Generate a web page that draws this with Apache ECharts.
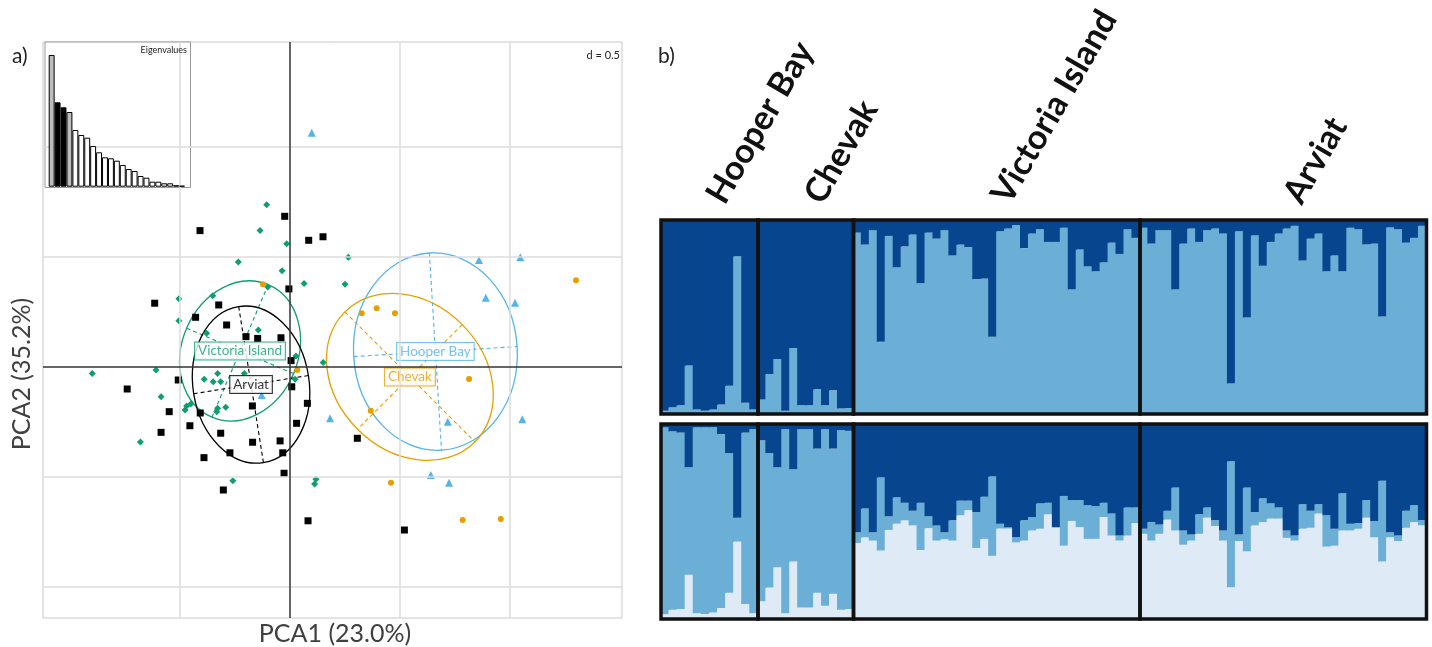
<!DOCTYPE html>
<html><head><meta charset="utf-8">
<script src="https://cdn.jsdelivr.net/npm/echarts@6/dist/echarts.min.js"></script>
<style>html,body{margin:0;padding:0;background:#fff}#chart{width:1432px;height:647px}</style>
</head><body><div id="chart"></div>
<script>
// ---------------- PCA scores (PC1, PC2) ----------------
const victoriaPts = [[-0.106,0.738],[-0.136,0.620],[-0.015,0.560],[-0.235,0.477],[-0.036,0.438],[0.064,0.380],[-0.101,0.364],[-0.505,0.310],[-0.351,0.324],[0.265,0.499],[0.250,0.376],[0.151,0.020],[-0.505,0.210],[-0.144,0.168],[-0.379,0.153],[0.027,0.050],[0.023,-0.056],[-0.899,-0.029],[-0.609,-0.014],[-0.390,-0.056],[-0.329,-0.029],[-0.349,-0.067],[-0.315,-0.067],[-0.208,-0.029],[-0.586,-0.135],[-0.470,-0.177],[-0.451,-0.168],[-0.329,-0.188],[-0.292,-0.183],[-0.477,-0.195],[-0.333,-0.203],[-0.680,-0.341],[-0.260,-0.517],[0.118,-0.510],[0.112,-0.532]];
const arviatPts = [[-0.024,0.685],[-0.409,0.620],[0.085,0.576],[0.150,0.592],[-0.005,0.355],[-0.615,0.290],[-0.324,0.282],[-0.429,0.226],[-0.288,0.191],[-0.200,0.138],[-0.147,0.130],[-0.041,0.133],[0.005,0.029],[0.008,-0.090],[-0.508,-0.059],[-0.740,-0.100],[-0.171,-0.177],[0.079,-0.165],[-0.549,-0.203],[-0.408,-0.209],[-0.455,-0.267],[-0.586,-0.297],[-0.315,-0.301],[-0.170,-0.342],[-0.045,-0.336],[0.030,-0.256],[-0.273,-0.390],[-0.033,-0.390],[-0.391,-0.412],[-0.027,-0.483],[-0.303,-0.559],[0.082,-0.699],[0.306,-0.324],[0.520,-0.741]];
const hooperPts = [[0.099,1.065],[0.859,0.486],[1.047,0.499],[0.890,0.315],[1.023,0.292],[0.182,-0.233],[0.717,-0.249],[1.056,-0.238],[0.640,-0.491],[0.723,-0.526],[-0.129,-0.127]];
const chevakPts = [[-0.123,0.376],[1.300,0.394],[0.326,0.244],[0.394,0.267],[0.477,0.244],[0.033,-0.014],[0.814,-0.055],[0.367,-0.199],[0.459,-0.526],[0.785,-0.695],[0.958,-0.691]];

const groupNames = ['Victoria Island','Arviat','Hooper Bay','Chevak'];
const groupCentroids = [[-0.227,0.073],[-0.177,-0.080],[0.661,0.070],[0.545,-0.045]];
const ellipseRadii = [[0.264,0.327],[0.264,0.359],[0.372,0.449],[0.418,0.336]];
const ellipseAngles = [-23,9,3.5,-45];

const gridLinesX = [-0.5,0.5,1.0];
const gridLinesY = [1.0,0.5,-0.5,-1.0];

const eigenvalues = [131.7,84.4,79.4,74.7,56.7,51.7,49,40.7,34.4,29.4,28.4,26,21.7,17.7,15.7,10.7,9,5,5,3.4,3.4,1.5,1];

// ---------------- STRUCTURE membership ----------------
const structPops = ['Hooper Bay','Chevak','Victoria Island','Arviat'];
// K = 2 : dark-cluster membership
const hooperK2Dark = [0.983,0.965,0.955,0.75,0.977,0.983,0.977,0.951,0.855,0.187,0.942,0.977];
const chevakK2Dark = [0.925,0.794,0.716,0.983,0.660,0.955,0.955,0.873,0.955,0.878,0.972,0.969];
const victoriaK2Dark = [0.065,0.127,0.052,0.628,0.082,0.244,0.136,0.075,0.326,0.065,0.096,0.052,0.183,0.127,0.140,0.305,0.302,0.602,0.058,0.044,0.026,0.145,0.070,0.047,0.113,0.113,0.040,0.358,0.152,0.239,0.265,0.218,0.117,0.175,0.047,0.092];
const arviatK2Dark = [0.040,0.122,0.052,0.052,0.358,0.122,0.044,0.113,0.052,0.044,0.070,0.843,0.058,0.503,0.079,0.236,0.113,0.070,0.044,0.030,0.209,0.096,0.070,0.265,0.183,0.265,0.040,0.047,0.126,0.122,0.497,0.038,0.047,0.117,0.092,0.030];
// K = 3 : dark-cluster and light-cluster membership
const hooperK3Dark = [0.017,0.038,0.044,0.222,0.017,0.017,0.017,0.052,0.149,0.481,0.044,0.026];
const hooperK3Light = [0.024,0.047,0.051,0.227,0.030,0.026,0.033,0.056,0.135,0.397,0.077,0.030];
const chevakK3Dark = [0.084,0.149,0.222,0.026,0.232,0.026,0.026,0.126,0.026,0.126,0.031,0.035];
const chevakK3Light = [0.091,0.161,0.266,0.030,0.295,0.059,0.059,0.135,0.068,0.129,0.047,0.051];
const victoriaK3Dark = [0.555,0.433,0.555,0.274,0.473,0.376,0.404,0.445,0.404,0.473,0.520,0.555,0.494,0.393,0.393,0.451,0.373,0.269,0.511,0.529,0.581,0.494,0.477,0.407,0.404,0.529,0.369,0.390,0.390,0.416,0.421,0.404,0.459,0.572,0.428,0.428];
const victoriaK3Light = [0.390,0.419,0.402,0.351,0.457,0.489,0.506,0.480,0.354,0.466,0.402,0.409,0.402,0.532,0.558,0.364,0.411,0.324,0.464,0.464,0.393,0.402,0.454,0.463,0.537,0.473,0.376,0.503,0.471,0.411,0.411,0.523,0.428,0.402,0.428,0.492];
const arviatK3Dark = [0.537,0.503,0.515,0.445,0.326,0.546,0.567,0.463,0.428,0.494,0.546,0.191,0.567,0.326,0.451,0.381,0.407,0.428,0.546,0.572,0.411,0.445,0.411,0.468,0.537,0.355,0.511,0.508,0.390,0.497,0.291,0.555,0.572,0.445,0.416,0.494];
const arviatK3Light = [0.437,0.402,0.437,0.510,0.454,0.381,0.402,0.437,0.520,0.477,0.402,0.163,0.400,0.347,0.480,0.497,0.515,0.515,0.416,0.402,0.463,0.468,0.541,0.371,0.376,0.454,0.454,0.463,0.520,0.419,0.295,0.419,0.400,0.468,0.497,0.480];

// ---------------- styling / layout ----------------
const groupColors = ['#0F9E72','#000000','#56B4E9','#E69F00'];
const groupSymbols = ['diamond','rect','triangle','circle'];
const groupSymbolSizes = [7,7,8,6];
const DARK='#08458F', MID='#6BAED6', LIGHT='#DEEBF7';
const FONT='Lato';

const xMin=-1.1227, xMax=1.5091, yMin=-1.1409, yMax=1.4773;

const grids=[], xAxes=[], yAxes=[], series=[];
// grid 0: PCA
grids.push({left:43,top:42,width:579,height:576,show:true,borderColor:'#c8c8c8',borderWidth:1});
xAxes.push({gridIndex:0,type:'value',min:xMin,max:xMax,axisLine:{show:false},axisTick:{show:false},axisLabel:{show:false},splitLine:{show:false}});
yAxes.push({gridIndex:0,type:'value',min:yMin,max:yMax,axisLine:{show:false},axisTick:{show:false},axisLabel:{show:false},splitLine:{show:false}});
// grid 1: inset frame
grids.push({left:45,top:42,width:145.5,height:145.5,show:true,backgroundColor:'#fff',borderColor:'#9a9a9a',borderWidth:1,z:5});
xAxes.push({gridIndex:1,type:'value',show:false,min:0,max:1});
yAxes.push({gridIndex:1,type:'value',show:false,min:0,max:1});
// grid 2: inset bars
grids.push({left:48.7,top:42,width:136.3,height:144.7,z:6});
xAxes.push({gridIndex:2,type:'category',show:false,data:eigenvalues.map((v,i)=>'ax'+(i+1))});
yAxes.push({gridIndex:2,type:'value',show:false,min:0,max:144.7});

// PCA gridlines
series.push({type:'scatter',xAxisIndex:0,yAxisIndex:0,data:[],z:1,silent:true,
  markLine:{symbol:['none','none'],silent:true,label:{show:false},animation:false,
    lineStyle:{color:'#dcdcdc',width:1.5,type:'solid'},
    data:[...gridLinesX.map(v=>({xAxis:v})),...gridLinesY.map(v=>({yAxis:v}))]}});
series.push({type:'scatter',xAxisIndex:0,yAxisIndex:0,data:[],z:2,silent:true,
  markLine:{symbol:['none','none'],silent:true,label:{show:false},animation:false,
    lineStyle:{color:'#333',width:1.5,type:'solid'},
    data:[{xAxis:0},{yAxis:0}]}});
// ellipses + axes
series.push({type:'custom',xAxisIndex:0,yAxisIndex:0,z:2,silent:true,
  data:groupCentroids.map((c,i)=>[c[0],c[1],ellipseRadii[i][0],ellipseRadii[i][1],ellipseAngles[i],i]),
  renderItem:function(params,api){
    const c=api.coord([api.value(0),api.value(1)]);
    const s=api.size([api.value(2),api.value(3)]);
    const col=groupColors[api.value(5)];
    return {type:'group',x:c[0],y:c[1],rotation:api.value(4)*Math.PI/180,children:[
      {type:'ellipse',shape:{cx:0,cy:0,rx:s[0],ry:s[1]},style:{fill:'none',stroke:col,lineWidth:1.3}},
      {type:'line',shape:{x1:-s[0],y1:0,x2:s[0],y2:0},style:{stroke:col,lineWidth:1.1,lineDash:[4,3]}},
      {type:'line',shape:{x1:0,y1:-s[1],x2:0,y2:s[1]},style:{stroke:col,lineWidth:1.1,lineDash:[4,3]}}
    ]};
  }});
// points
[victoriaPts,arviatPts,hooperPts,chevakPts].forEach((pts,i)=>{
  series.push({type:'scatter',xAxisIndex:0,yAxisIndex:0,z:3,data:pts,symbol:groupSymbols[i],
    symbolSize:groupSymbolSizes[i],itemStyle:{color:groupColors[i],opacity:1}});
});
// centroid labels
groupCentroids.forEach((c,i)=>{
  series.push({type:'scatter',xAxisIndex:0,yAxisIndex:0,z:4,data:[c],symbolSize:2,itemStyle:{color:'rgba(0,0,0,0)'},
    label:{show:true,position:'inside',formatter:groupNames[i],color:groupColors[i],fontFamily:FONT,fontSize:13.5,
      backgroundColor:'#fff',borderColor:groupColors[i],borderWidth:1,padding:[2,3,1,3]},
    labelLayout:{hideOverlap:false}});
});
// eigenvalue bars
series.push({type:'bar',xAxisIndex:2,yAxisIndex:2,z:7,barCategoryGap:'0%',
  data:eigenvalues.map((v,i)=>({value:v,itemStyle:{color:(i===1||i===2)?'#000':(i===0||i===3)?'#bdbdbd':'#fff'}})),
  itemStyle:{borderColor:'#000',borderWidth:1}});

// STRUCTURE grids (stacked membership columns drawn as custom series through the axes)
const structCols=[{left:661,width:97},{left:758,width:95.5},{left:853.5,width:286.5},{left:1140,width:286.5}];
const structRows=[{top:220,height:194},{top:424,height:195}];
const k2=[hooperK2Dark,chevakK2Dark,victoriaK2Dark,arviatK2Dark];
const k3d=[hooperK3Dark,chevakK3Dark,victoriaK3Dark,arviatK3Dark];
const k3l=[hooperK3Light,chevakK3Light,victoriaK3Light,arviatK3Light];
function structRender(params,api){
  const i=api.value(0), dark=api.value(1), light=api.value(2);
  const w=api.size([1,0])[0];
  const pB=api.coord([i,0]), pL=api.coord([i,light]), pD=api.coord([i,1-dark]), pT=api.coord([i,1]);
  const x=pB[0]-w/2-0.6, ww=w+1.2;
  const ch=[];
  if(light>0) ch.push({type:'rect',shape:{x:x,y:pL[1],width:ww,height:pB[1]-pL[1]},style:{fill:LIGHT}});
  ch.push({type:'rect',shape:{x:x,y:pD[1],width:ww,height:pL[1]-pD[1]},style:{fill:MID}});
  ch.push({type:'rect',shape:{x:x,y:pT[1],width:ww,height:pD[1]-pT[1]},style:{fill:DARK}});
  return {type:'group',children:ch};
}
structRows.forEach((row,r)=>{
  structCols.forEach((col,p)=>{
    const gi=grids.length;
    grids.push({left:col.left,top:row.top,width:col.width,height:row.height,show:true,borderColor:'#111',borderWidth:3.5,z:10});
    xAxes.push({gridIndex:gi,type:'category',show:false,data:k2[p].map((v,i)=>structPops[p]+' '+(i+1))});
    yAxes.push({gridIndex:gi,type:'value',show:false,min:0,max:1});
    const data = r===0 ? k2[p].map((d,i)=>[i,d,0]) : k3d[p].map((d,i)=>[i,d,k3l[p][i]]);
    series.push({type:'custom',xAxisIndex:gi,yAxisIndex:gi,z:2,silent:true,clip:true,
      encode:{x:0,y:1},data:data,renderItem:structRender});
  });
});

const rot=60*Math.PI/180;
const lbl=(t,x)=>({type:'text',x:x,y:209,z:100,rotation:rot,style:{text:t,fontSize:34,fontWeight:'bold',fontFamily:FONT,fill:'#111',textAlign:'left',textVerticalAlign:'bottom'}});
const graphics=[
  {type:'text',x:12,y:56,z:100,style:{text:'a)',fontSize:21,fontFamily:FONT,fill:'#222',textVerticalAlign:'middle'}},
  {type:'text',x:658,y:56,z:100,style:{text:'b)',fontSize:21,fontFamily:FONT,fill:'#222',textVerticalAlign:'middle'}},
  {type:'text',x:620,y:55,z:100,style:{text:'d = 0.5',fontSize:11,fontFamily:FONT,fill:'#222',textAlign:'right',textVerticalAlign:'middle'}},
  {type:'text',x:187,y:50,z:100,style:{text:'Eigenvalues',fontSize:9,fontFamily:FONT,fill:'#222',textAlign:'right',textVerticalAlign:'middle'}},
  {type:'text',x:335,y:634,z:100,style:{text:'PCA1 (23.0%)',fontSize:25,fontFamily:FONT,fill:'#404040',textAlign:'center',textVerticalAlign:'middle'}},
  {type:'text',x:22,y:374,z:100,rotation:Math.PI/2,style:{text:'PCA2 (35.2%)',fontSize:25,fontFamily:FONT,fill:'#404040',textAlign:'center',textVerticalAlign:'middle'}},
  lbl('Hooper Bay',730),
  lbl('Chevak',828),
  lbl('Victoria Island',1015),
  lbl('Arviat',1307)
];

const chart=echarts.init(document.getElementById('chart'));
chart.setOption({animation:false,backgroundColor:'#fff',grid:grids,xAxis:xAxes,yAxis:yAxes,series:series,graphic:graphics});
</script></body></html>
